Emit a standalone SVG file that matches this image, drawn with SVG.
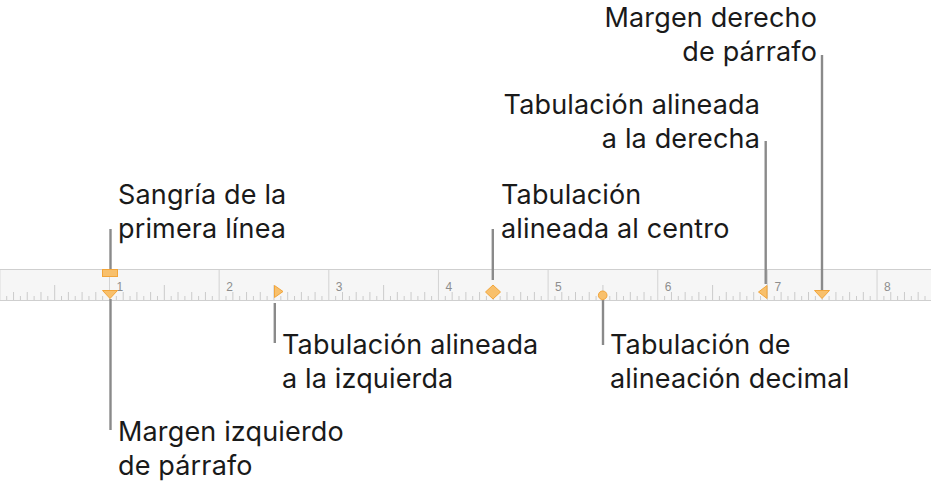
<svg xmlns="http://www.w3.org/2000/svg" xmlns:xlink="http://www.w3.org/1999/xlink" width="931" height="487" viewBox="0 0 931 487">
  <style>
    .lbl { font-family: Inter, "Liberation Sans", sans-serif; font-size: 27px; letter-spacing: 0.15px; fill: #1a1a1a; }
    .end { text-anchor: end; }
    .num { font-family: "Liberation Sans", Arial, sans-serif; font-size: 12px; fill: #8e8e8e; }
    .tick { stroke: #cbcbcb; stroke-width: 1; fill: none; }
    .major { stroke: #d3d3d3; stroke-width: 1; fill: none; }
    .lead { stroke: #8a8a8a; stroke-width: 2.4; fill: none; }
    .mk { fill: #f8c06c; stroke: #f2a53a; stroke-width: 1; }
  </style>
  <defs>
    <g id="unit">
      <path class="major" d="M0 269V300"/>
      <path class="tick" d="M6.85 296V300M20.56 296V300M34.27 296V300M47.97 296V300M61.68 296V300M75.38 296V300M89.09 296V300M102.8 296V300"/>
      <path class="tick" d="M13.71 292V300M27.41 292V300M41.12 292V300M68.53 292V300M82.24 292V300M95.94 292V300"/>
      <path class="tick" d="M54.83 285V300"/>
    </g>
  </defs>
  <rect width="931" height="487" fill="#ffffff"/>
  <g id="ruler">
    <rect x="0" y="269" width="931" height="31" fill="#f6f6f6"/>
    <use xlink:href="#unit" href="#unit" x="-0.15"/>
    <use xlink:href="#unit" href="#unit" x="109.5"/>
    <use xlink:href="#unit" href="#unit" x="219.15"/>
    <use xlink:href="#unit" href="#unit" x="328.8"/>
    <use xlink:href="#unit" href="#unit" x="438.45"/>
    <use xlink:href="#unit" href="#unit" x="548.1"/>
    <use xlink:href="#unit" href="#unit" x="657.75"/>
    <use xlink:href="#unit" href="#unit" x="767.4"/>
    <use xlink:href="#unit" href="#unit" x="877.05"/>
    <path d="M0 269.5H931M0 300.5H931" stroke="#cfcfcf" stroke-width="1"/>
    <text class="num" x="116.5" y="291">1</text>
    <text class="num" x="226.2" y="291">2</text>
    <text class="num" x="335.8" y="291">3</text>
    <text class="num" x="445.5" y="291">4</text>
    <text class="num" x="555.1" y="291">5</text>
    <text class="num" x="664.8" y="291">6</text>
    <text class="num" x="774.4" y="291">7</text>
    <text class="num" x="884.1" y="291">8</text>
  </g>
  <g id="connectors">
    <path class="lead" d="M110.5 229V269"/>
    <path class="lead" d="M110.5 299V430"/>
    <path class="lead" d="M274.8 303V343"/>
    <path class="lead" d="M492.8 229V280"/>
    <path class="lead" d="M603 300V345"/>
    <path class="lead" d="M765.7 141V284"/>
    <path class="lead" d="M822 55V290"/>
  </g>
  <g id="marker-first-line-indent">
    <rect class="mk" x="102.5" y="269.5" width="15" height="7"/>
  </g>
  <g id="marker-left-margin">
    <polygon class="mk" points="102.5,290.5 117.5,290.5 110,298.5"/>
  </g>
  <g id="marker-left-tab">
    <polygon class="mk" points="274.5,285.5 283,291.5 274.5,297.5"/>
  </g>
  <g id="marker-center-tab">
    <polygon class="mk" points="493,285 500.5,292 493,299 485.5,292"/>
  </g>
  <g id="marker-decimal-tab">
    <circle class="mk" cx="602.7" cy="295.3" r="4.3"/>
  </g>
  <g id="marker-right-tab">
    <polygon class="mk" points="767,285.5 758.5,292 767,298.5"/>
  </g>
  <g id="marker-right-margin">
    <polygon class="mk" points="814.5,290.5 829.5,290.5 822,298.5"/>
  </g>
  <g id="label-first-line-indent">
    <text class="lbl" x="118" y="203.5">Sangría de la</text>
    <text class="lbl" x="118" y="237.5">primera línea</text>
  </g>
  <g id="label-center-tab">
    <text class="lbl" x="501" y="203.5">Tabulación</text>
    <text class="lbl" x="501" y="237.5">alineada al centro</text>
  </g>
  <g id="label-right-tab">
    <text class="lbl end" x="760" y="113.5">Tabulación alineada</text>
    <text class="lbl end" x="760" y="147.5">a la derecha</text>
  </g>
  <g id="label-right-margin">
    <text class="lbl end" x="817" y="27">Margen derecho</text>
    <text class="lbl end" x="817" y="61">de párrafo</text>
  </g>
  <g id="label-left-tab">
    <text class="lbl" x="282" y="353.5">Tabulación alineada</text>
    <text class="lbl" x="282" y="388">a la izquierda</text>
  </g>
  <g id="label-decimal-tab">
    <text class="lbl" x="610" y="353.5">Tabulación de</text>
    <text class="lbl" x="610" y="388">alineación decimal</text>
  </g>
  <g id="label-left-margin">
    <text class="lbl" x="118" y="441">Margen izquierdo</text>
    <text class="lbl" x="118" y="475">de párrafo</text>
  </g>
</svg>
